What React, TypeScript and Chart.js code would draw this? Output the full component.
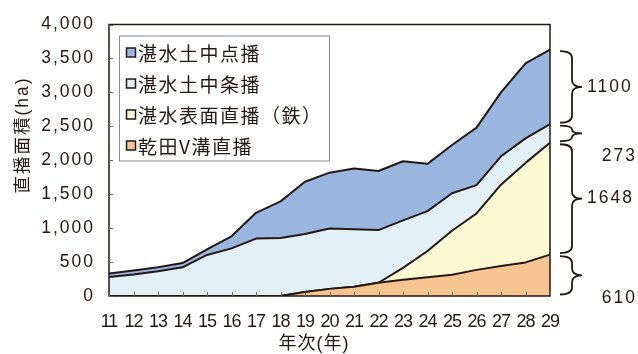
import React, { useEffect, useRef } from 'react';
import { Chart, registerables } from 'chart.js';

Chart.register(...registerables);

// ---- data ----
const years = ['11', '12', '13', '14', '15', '16', '17', '18', '19', '20', '21', '22', '23', '24', '25', '26', '27', '28', '29'];
const kandenVmizo = [0, 0, 0, 0, 0, 0, 0, 0, 60, 105, 135, 195, 241, 278, 313, 385, 443, 495, 610];
const tansuiHyomen = [0, 0, 0, 0, 0, 0, 0, 0, 0, 0, 0, 0, 173, 385, 649, 831, 1197, 1466, 1648];
const tansuiJochuJo = [280, 317, 365, 423, 605, 702, 846, 855, 853, 890, 850, 776, 701, 587, 552, 418, 418, 361, 273];
const tansuiJochuTen = [50, 58, 58, 63, 83, 178, 380, 539, 770, 822, 894, 870, 870, 697, 711, 846, 941, 1105, 1100];
const seriesLabels = ['乾田V溝直播', '湛水表面直播（鉄）', '湛水土中条播', '湛水土中点播'];
const yTitle = '直播面積(ha)';
const xTitle = '年次(年)';

// ---- styles ----
const INK = '#231815';
const FILLS = ['#F5C491', '#FCF8D2', '#E3F0F7', '#9BB6DE'];
const LATIN = "'Liberation Sans', 'Noto Sans CJK JP', sans-serif";
const CJK = "'Noto Sans CJK JP', 'Liberation Sans', sans-serif";
const NARROW = "'Liberation Sans Narrow', 'Liberation Sans', sans-serif";

function drawBrace(ctx: CanvasRenderingContext2D, xEnd: number, xSpine: number, xTip: number, y0: number, y1: number) {
  const ym = (y0 + y1) / 2;
  const r = Math.min(7, (y1 - y0) / 4);
  ctx.beginPath();
  ctx.moveTo(xEnd, y0);
  ctx.quadraticCurveTo(xSpine, y0, xSpine, y0 + r);
  ctx.lineTo(xSpine, ym - r);
  ctx.quadraticCurveTo(xSpine, ym, xTip, ym);
  ctx.quadraticCurveTo(xSpine, ym, xSpine, ym + r);
  ctx.lineTo(xSpine, y1 - r);
  ctx.quadraticCurveTo(xSpine, y1, xEnd, y1);
  ctx.stroke();
}

const decorPlugin = {
  id: 'decor',
  beforeDraw(chart: any) {
    (chart.ctx as any).letterSpacing = '2px';
  },
  afterDatasetsDraw(chart: any) {
    const ctx: CanvasRenderingContext2D = chart.ctx;
    const a = chart.chartArea;
    const x = chart.scales.x;
    const y = chart.scales.y;
    ctx.save();
    // frame
    ctx.strokeStyle = INK;
    ctx.lineWidth = 1.5;
    ctx.strokeRect(a.left, a.top, a.right - a.left, a.bottom - a.top);
    // inward ticks
    ctx.lineWidth = 1;
    ctx.strokeStyle = '#666';
    ctx.beginPath();
    y.ticks.forEach((t: any) => {
      const py = Math.round(y.getPixelForValue(t.value)) + 0.5;
      ctx.moveTo(a.left, py);
      ctx.lineTo(a.left + 4, py);
    });
    years.forEach((_, i) => {
      const px = Math.round(x.getPixelForValue(i)) + 0.5;
      ctx.moveTo(px, a.bottom);
      ctx.lineTo(px, a.bottom - 4);
    });
    ctx.stroke();

    // braces with last values
    const ds = chart.data.datasets;
    let cum = 0;
    ctx.strokeStyle = INK;
    ctx.lineWidth = 1.8;
    ctx.fillStyle = INK;
    ctx.font = `17.5px ${LATIN}`;
    (ctx as any).letterSpacing = '2px';
    ctx.textBaseline = 'middle';
    const below = [true, false, true, false];
    ds.forEach((d: any, i: number) => {
      const v = d.data[d.data.length - 1];
      const y0 = y.getPixelForValue(cum + v) + 1.5;
      const y1 = y.getPixelForValue(cum) - 1.5;
      cum += v;
      drawBrace(ctx, a.right + 10, a.right + 22, a.right + 32, y0, y1);
      const ym = (y0 + y1) / 2;
      if (below[i]) {
        ctx.textAlign = 'right';
        ctx.fillText(String(v), a.right + 87, ym + 23);
      } else {
        ctx.textAlign = 'left';
        ctx.fillText(String(v), a.right + 37, ym);
      }
    });

    // legend
    const lx = a.left + 10;
    const ly = a.top + 11;
    ctx.fillStyle = '#fff';
    ctx.fillRect(lx, ly, 210, 125);
    ctx.strokeStyle = '#8c8c8c';
    ctx.lineWidth = 1;
    ctx.strokeRect(lx + 0.5, ly + 0.5, 210, 125);
    ctx.font = `19px ${CJK}`;
    (ctx as any).letterSpacing = '1.5px';
    ctx.textAlign = 'left';
    ctx.textBaseline = 'middle';
    const items = ds.map((d: any) => ({ label: d.label, color: d.backgroundColor })).reverse();
    items.forEach((it: any, k: number) => {
      const cy = ly + 17 + k * 31;
      ctx.fillStyle = it.color;
      ctx.fillRect(lx + 7.5, cy - 4.5, 9, 9);
      ctx.strokeStyle = INK;
      ctx.lineWidth = 1.5;
      ctx.strokeRect(lx + 7.5, cy - 4.5, 9, 9);
      ctx.fillStyle = INK;
      ctx.fillText(it.label, lx + 19, cy + 1);
    });

    // axis titles
    ctx.fillStyle = INK;
    ctx.font = `17.5px ${LATIN}`;
    (ctx as any).letterSpacing = '2px';
    ctx.textAlign = 'center';
    ctx.textBaseline = 'middle';
    ctx.save();
    ctx.translate(23, 135);
    ctx.rotate(-Math.PI / 2);
    ctx.fillText(yTitle, 0, 0);
    ctx.restore();
    ctx.font = `18px ${LATIN}`;
    (ctx as any).letterSpacing = '1px';
    ctx.fillText(xTitle, 314, 344);

    ctx.restore();
    // x tick labels (drawn after datasets) are set tight and narrow
    (ctx as any).letterSpacing = '-1px';
  },
};

export default function App() {
  const ref = useRef<HTMLCanvasElement>(null);
  useEffect(() => {
    document.body.style.margin = '0';
    const series = [kandenVmizo, tansuiHyomen, tansuiJochuJo, tansuiJochuTen];
    const chart = new Chart(ref.current!, {
      type: 'line',
      data: {
        labels: years,
        datasets: series.map((s, i) => ({
          label: seriesLabels[i],
          data: s,
          backgroundColor: FILLS[i],
          borderColor: INK,
          borderWidth: 2,
          borderJoinStyle: 'round' as const,
          pointRadius: 0,
          tension: 0,
          fill: i === 0 ? 'origin' : '-1',
        })),
      },
      options: {
        responsive: false,
        animation: false,
        devicePixelRatio: 1,
        layout: { padding: { left: 0, top: 19, right: 88, bottom: 0 } },
        plugins: { legend: { display: false }, tooltip: { enabled: false } },
        scales: {
          x: {
            offset: false,
            grid: { display: false, drawTicks: false },
            border: { display: false },
            ticks: {
              z: 1,
              color: INK,
              font: { family: NARROW, size: 18, lineHeight: 1.2 },
              padding: 15,
              maxRotation: 0,
              autoSkip: false,
            },
            afterFit: (s: any) => { s.height = 58; },
          },
          y: {
            stacked: true,
            min: 0,
            max: 4000,
            grid: { display: false, drawTicks: false },
            border: { display: false },
            ticks: {
              z: 0,
              stepSize: 500,
              color: INK,
              font: { family: LATIN, size: 17.5 },
              padding: 14,
              callback: (v: any) => Number(v).toLocaleString('en-US'),
            },
            afterFit: (s: any) => { s.width = 109; },
          },
        },
      },
      plugins: [decorPlugin],
    });
    return () => chart.destroy();
  }, []);
  return (
    <div style={{ position: 'absolute', left: 0, top: 0, width: 638, height: 354 }}>
      <canvas ref={ref} width={638} height={354} />
    </div>
  );
}
